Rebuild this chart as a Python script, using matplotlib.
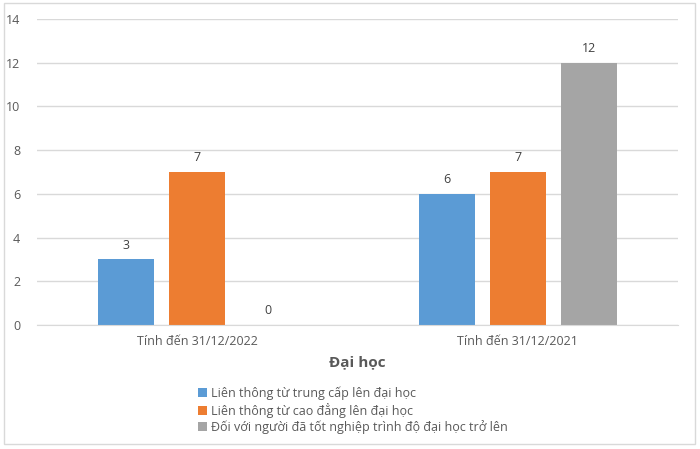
import matplotlib.pyplot as plt
import numpy as np
from matplotlib.patches import Rectangle

plt.rcParams['font.family'] = ['Open Sans', 'DejaVu Sans']

# Data
categories = ["Tính đến 31/12/2022", "Tính đến 31/12/2021"]
series_names = [
    "Liên thông từ trung cấp lên đại học",
    "Liên thông từ cao đẳng lên đại học",
    "Đối với người đã tốt nghiệp trình độ đại học trở lên",
]
lien_thong_trung_cap = [3, 6]
lien_thong_cao_dang = [7, 7]
tot_nghiep_dai_hoc = [0, 12]
colors = ["#5B9BD5", "#ED7D31", "#A5A5A5"]

fig = plt.figure(figsize=(7, 4.49), dpi=100)
ax = fig.add_axes([0.0529, 0.2762, 0.9157, 0.6815])

# chart border
fig.patches.append(Rectangle((0.005, 0.011), 0.988, 0.982, transform=fig.transFigure,
                             fill=False, edgecolor="#D9D9D9", linewidth=1))

x = np.arange(len(categories))
width = 0.1745
step = 0.221
text_col = "#595959"
for i, (vals, name) in enumerate(zip([lien_thong_trung_cap, lien_thong_cao_dang, tot_nghiep_dai_hoc], series_names)):
    bars = ax.bar(x + (i - 1) * step, vals, width, color=colors[i], label=name, zorder=2)
    for b, v in zip(bars, vals):
        ax.text(b.get_x() + b.get_width() / 2, v + 0.35, str(v), ha="center", va="bottom",
                fontsize=9, color="#404040")

ax.set_xlim(-0.5, 1.5)
ax.set_ylim(0, 14)
ax.set_yticks(range(0, 15, 2))
ax.set_xticks(x)
ax.set_xticklabels(categories, fontsize=9, color=text_col)
ax.tick_params(axis="y", labelsize=9, colors=text_col, length=0, pad=12)
ax.tick_params(axis="x", length=0, pad=7)
ax.grid(axis="y", color="#D9D9D9", linewidth=1, zorder=0)
for s in ["top", "right", "left"]:
    ax.spines[s].set_visible(False)
ax.spines["bottom"].set_color("#D9D9D9")

fig.text(0.511, 0.194, "Đại học", ha="center", va="center", fontsize=11, fontweight="bold", color=text_col)

leg = fig.legend(loc="upper left", bbox_to_anchor=(0.283, 0.139), frameon=False, fontsize=9,
                 handlelength=0.7, handleheight=0.7, handletextpad=0.3, labelspacing=0.2,
                 borderaxespad=0, borderpad=0)
for t in leg.get_texts():
    t.set_color(text_col)

fig.savefig("out.png", dpi=100)
